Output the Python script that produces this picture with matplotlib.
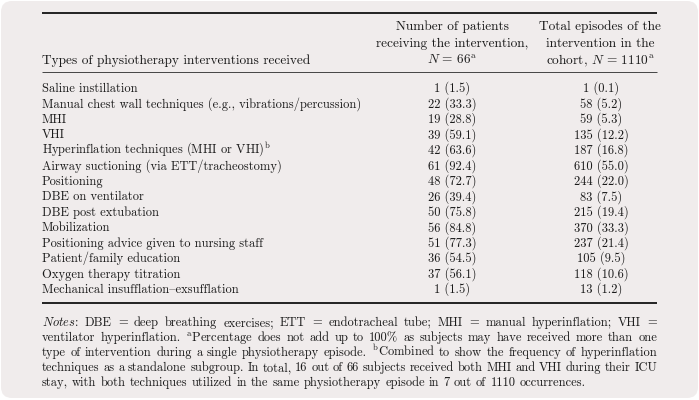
import matplotlib as mpl
mpl.use('Agg')
import matplotlib.pyplot as plt
from matplotlib.patches import FancyBboxPatch

# ------------------------------------------------------------------
# table contents
interventions = [
    'Saline instillation',
    'Manual chest wall techniques (e.g., vibrations/percussion)',
    'MHI',
    'VHI',
    r'Hyperinflation techniques (MHI or VHI)$^{\mathrm{b}}$',
    'Airway suctioning (via ETT/tracheostomy)',
    'Positioning',
    'DBE on ventilator',
    'DBE post extubation',
    'Mobilization',
    'Positioning advice given to nursing staff',
    'Patient/family education',
    'Oxygen therapy titration',
    'Mechanical insufflation{exsufflation',   # '{' is the en dash in cmr10
]
patients_n = [1, 22, 19, 39, 42, 61, 48, 26, 50, 56, 51, 36, 37, 1]
patients_pct = [1.5, 33.3, 28.8, 59.1, 63.6, 92.4, 72.7, 39.4, 75.8, 84.8,
                77.3, 54.5, 56.1, 1.5]
episodes_n = [1, 58, 59, 135, 187, 610, 244, 83, 215, 370, 237, 105, 118, 13]
episodes_pct = [0.1, 5.2, 5.3, 12.2, 16.8, 55.0, 22.0, 7.5, 19.4, 33.3,
                21.4, 9.5, 10.6, 1.2]

header_col1 = 'Types of physiotherapy interventions received'
header_col2 = ['Number of patients', 'receiving the intervention,',
               r'$N\,=\,66^{\mathrm{a}}$']
header_col3 = ['Total episodes of the', 'intervention in the',
               r'cohort, $N\,=\,1110^{\mathrm{a}}$']

notes_lines = [
    r'$\mathit{Notes}$: DBE = deep breathing exercises; ETT = endotracheal tube; MHI = manual hyperinflation; VHI =',
    r'ventilator hyperinflation. $^{\mathrm{a}}$Percentage does not add up to 100% as subjects may have received more than one',
    r'type of intervention during a single physiotherapy episode. $^{\mathrm{b}}$Combined to show the frequency of hyperinflation',
    r'techniques as a standalone subgroup. In total, 16 out of 66 subjects received both MHI and VHI during their ICU',
    r'stay, with both techniques utilized in the same physiotherapy episode in 7 out of 1110 occurrences.',
]

# ------------------------------------------------------------------
# style
plt.rcParams['mathtext.fontset'] = 'cm'
plt.rcParams['font.family'] = 'cmr10'
fs_head = 9.6
tcol = '#1a1a1a'
bg = '#f0ecec'

W, H = 699, 400
fig = plt.figure(figsize=(W / 100, H / 100), dpi=100)
fig.patch.set_facecolor('white')
ax = fig.add_axes([0, 0, 1, 1])
ax.set_xlim(0, W)
ax.set_ylim(H, 0)
ax.axis('off')

renderer = fig.canvas.get_renderer()


def text_width(s, size):
    t = ax.text(0, 0, s, fontsize=size)
    w = t.get_window_extent(renderer).width
    t.remove()
    return w


x_left, x_right = 42, 657
x_c2, x_c3 = 452, 601
base = 4  # visual centre -> baseline

# body and notes are set a touch smaller than the header
fs_body = fs_head * 318 / text_width(interventions[1], fs_head)
fs_note = fs_body

ax.add_patch(FancyBboxPatch((1, 1), W - 2, H - 3,
                            boxstyle='round,pad=0,rounding_size=11',
                            fc=bg, ec='none'))

# rules
ax.plot([x_left, x_right], [13, 13], color='#222222', lw=1.4,
        solid_capstyle='butt')
ax.plot([x_left, x_right], [72, 72], color='#444444', lw=0.7,
        solid_capstyle='butt')
ax.plot([x_left, x_right], [303, 303], color='#222222', lw=1.4,
        solid_capstyle='butt')

# header
hy = [26, 43, 60]
ax.text(x_left, hy[2] + base, header_col1, fontsize=fs_head, color=tcol,
        ha='left', va='baseline')
for i in range(3):
    ax.text(x_c2, hy[i] + base, header_col2[i], fontsize=fs_head,
            color=tcol, ha='center', va='baseline')
    ax.text(x_c3 - 1, hy[i] + base, header_col3[i], fontsize=fs_head,
            color=tcol, ha='center', va='baseline')

# body
y0, dy = 88, 15.46
for i, name in enumerate(interventions):
    y = y0 + i * dy + base
    ax.text(x_left, y, name, fontsize=fs_body, color=tcol, ha='left',
            va='baseline')
    ax.text(x_c2, y, '%d (%.1f)' % (patients_n[i], patients_pct[i]),
            fontsize=fs_body, color=tcol, ha='center', va='baseline')
    ax.text(x_c3, y, '%d (%.1f)' % (episodes_n[i], episodes_pct[i]),
            fontsize=fs_body, color=tcol, ha='center', va='baseline')

# notes, justified (last line left ragged)
space_w = text_width('a a', fs_note) - text_width('aa', fs_note)
ny0, ndy = 322, 15
for k, line in enumerate(notes_lines):
    y = ny0 + k * ndy + base
    words = line.split(' ')
    widths = [text_width(w, fs_note) for w in words]
    if k < len(notes_lines) - 1:
        gap = (x_right - x_left - sum(widths)) / (len(words) - 1)
    else:
        gap = space_w
    x = x_left
    for w, wd in zip(words, widths):
        ax.text(x, y, w, fontsize=fs_note, color=tcol, ha='left',
                va='baseline')
        x += wd + gap

plt.savefig('out.png', dpi=100, facecolor='white')
